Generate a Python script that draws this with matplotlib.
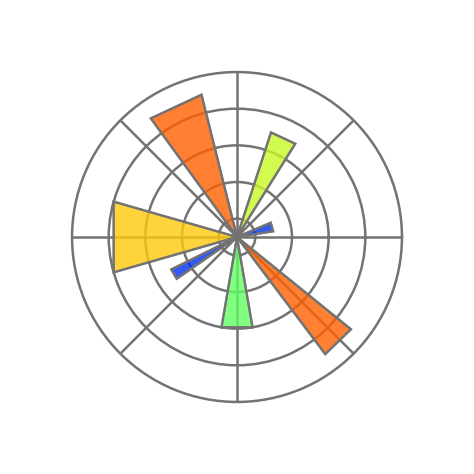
import matplotlib
import numpy as np

matplotlib.use("Agg")
import matplotlib.pyplot as plt  # noqa: E402

# bar centres and widths (degrees), radii in grid units
THETA_DEG = [16, 65, 115, 180, 210.5, 270, 314]
WIDTH_DEG = [14, 14, 22, 32, 8.5, 19.5, 14]
RADII = [2, 6, 8, 7, 4, 5, 8]
RGRID = [1, 3, 5, 7]
RMAX = 9

GREY = "0.45"
COLORS = ["#0031f2", "#c9f924", "#ff6000", "#ffc90b",
          "#0031f2", "#60ff60", "#ff6000"]


def main():
    fig = plt.figure(figsize=(4.74, 4.74), dpi=100)
    ax = fig.add_axes([0.152, 0.152, 0.696, 0.696], projection="polar")
    ax.set_axisbelow(True)

    # wedges with straight outer edges (old-style polar bars)
    for c, w, r, col in zip(THETA_DEG, WIDTH_DEG, RADII, COLORS):
        t = np.radians([c - w / 2, c + w / 2])
        ax.fill([0, t[0], t[1]], [0, r, r], facecolor=col, alpha=0.8,
                edgecolor=GREY, lw=1.6, zorder=2)
        ax.fill([0, t[0], t[1]], [0, r, r], facecolor="none",
                edgecolor=GREY, lw=1.6, zorder=3)

    ax.tick_params(labelbottom=False, labeltop=False,
                   labelleft=False, labelright=False, length=0)
    ax.grid(lw=1.8, ls="-", color=GREY)
    ax.set_rlim(0, RMAX)
    ax.set_yticks(RGRID)
    ax.set_xticks(np.radians(np.arange(0, 360, 45)))
    ax.spines["polar"].set_color(GREY)
    ax.spines["polar"].set_linewidth(1.8)

    fig.savefig("out.png", dpi=100)


if __name__ == "__main__":
    main()
